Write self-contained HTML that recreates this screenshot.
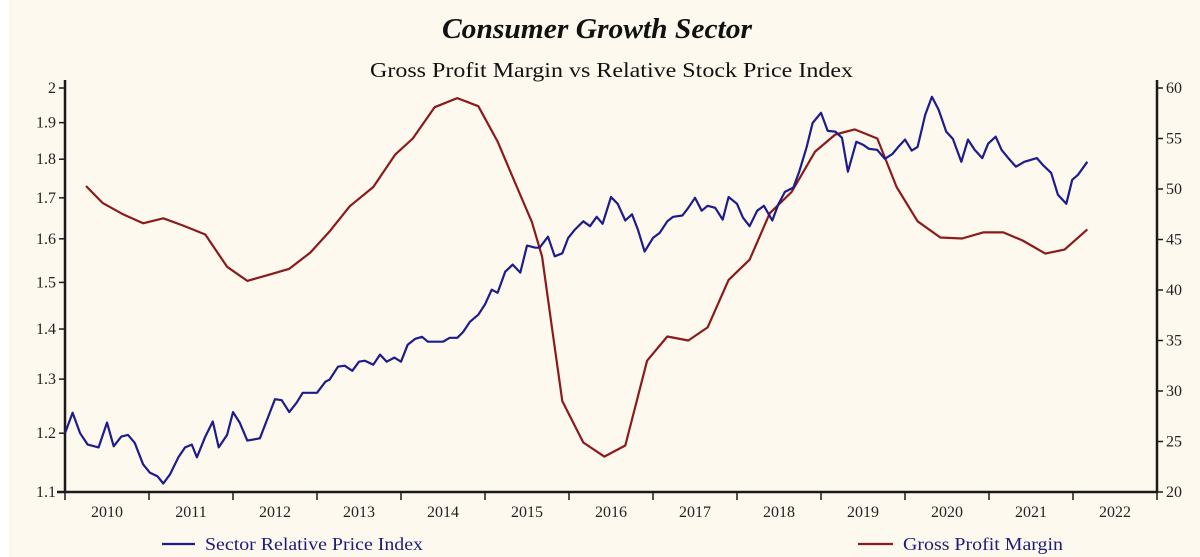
<!DOCTYPE html>
<html>
<head>
<meta charset="utf-8">
<style>
  html, body { margin: 0; padding: 0; background: #ffffff; }
  #wrap { position: relative; width: 1200px; height: 557px; overflow: hidden; }
  svg text { font-family: "Liberation Serif", serif; }
</style>
</head>
<body>
<div id="wrap">
<svg id="chart" width="1200" height="557" viewBox="0 0 1200 557" xmlns="http://www.w3.org/2000/svg">
  <rect x="9" y="0" width="1191" height="557" fill="#fdf9ef"/>
  <text x="442" y="38" textLength="310" lengthAdjust="spacingAndGlyphs" font-size="29" font-weight="bold" font-style="italic" fill="#111">Consumer Growth Sector</text>
  <text x="370" y="77" textLength="483" lengthAdjust="spacingAndGlyphs" font-size="21" fill="#111">Gross Profit Margin vs Relative Stock Price Index</text>
  <g id="axes"></g>
  <g id="series"></g>
  <g>
    <line x1="162" y1="544" x2="195" y2="544" stroke="#1c1c8c" stroke-width="2.2"/>
    <text x="205" y="550" textLength="218" lengthAdjust="spacingAndGlyphs" font-size="18" fill="#1c1c7a">Sector Relative Price Index</text>
    <line x1="858" y1="544" x2="893" y2="544" stroke="#8b1a1a" stroke-width="2.2"/>
    <text x="903" y="550" textLength="160" lengthAdjust="spacingAndGlyphs" font-size="18" fill="#1c1c7a">Gross Profit Margin</text>
  </g>
</svg>
</div>
<script>
const years = [2010, 2011, 2012, 2013, 2014, 2015, 2016, 2017, 2018, 2019, 2020, 2021, 2022];
const leftTicks = [1.1, 1.2, 1.3, 1.4, 1.5, 1.6, 1.7, 1.8, 1.9, 2];
const rightTicks = [20, 25, 30, 35, 40, 45, 50, 55, 60];

const priceDates = [2010.00,2010.09,2010.18,2010.27,2010.40,2010.50,2010.58,2010.67,2010.75,2010.83,2010.93,2011.01,2011.10,2011.17,2011.25,2011.35,2011.43,2011.51,2011.57,2011.67,2011.76,2011.83,2011.93,2012.00,2012.08,2012.17,2012.32,2012.42,2012.50,2012.58,2012.67,2012.76,2012.83,2013.00,2013.10,2013.15,2013.25,2013.33,2013.42,2013.50,2013.57,2013.67,2013.75,2013.83,2013.92,2014.00,2014.08,2014.17,2014.25,2014.32,2014.50,2014.58,2014.67,2014.74,2014.82,2014.92,2015.00,2015.08,2015.15,2015.24,2015.33,2015.42,2015.50,2015.60,2015.65,2015.75,2015.83,2015.92,2015.99,2016.07,2016.17,2016.25,2016.33,2016.40,2016.50,2016.58,2016.67,2016.75,2016.82,2016.90,2017.00,2017.08,2017.17,2017.24,2017.35,2017.42,2017.50,2017.58,2017.65,2017.74,2017.83,2017.90,2018.00,2018.07,2018.15,2018.24,2018.32,2018.42,2018.49,2018.57,2018.67,2018.74,2018.83,2018.90,2019.00,2019.08,2019.17,2019.25,2019.32,2019.42,2019.50,2019.57,2019.67,2019.76,2019.85,2019.92,2020.00,2020.08,2020.15,2020.24,2020.32,2020.40,2020.49,2020.57,2020.67,2020.75,2020.83,2020.92,2020.99,2021.08,2021.15,2021.23,2021.32,2021.42,2021.57,2021.64,2021.74,2021.82,2021.92,2021.99,2022.06,2022.17];
const priceValues = [1.200,1.237,1.200,1.180,1.175,1.219,1.177,1.194,1.197,1.183,1.146,1.132,1.126,1.114,1.129,1.158,1.175,1.180,1.158,1.194,1.221,1.175,1.197,1.238,1.219,1.187,1.191,1.230,1.262,1.260,1.238,1.256,1.274,1.274,1.295,1.299,1.324,1.326,1.316,1.334,1.336,1.328,1.348,1.334,1.342,1.334,1.368,1.380,1.384,1.374,1.374,1.382,1.382,1.394,1.415,1.430,1.452,1.484,1.477,1.524,1.540,1.522,1.584,1.579,1.579,1.605,1.559,1.566,1.602,1.622,1.642,1.630,1.653,1.636,1.702,1.685,1.644,1.659,1.622,1.570,1.602,1.614,1.642,1.653,1.656,1.675,1.700,1.668,1.680,1.675,1.646,1.702,1.685,1.651,1.630,1.668,1.680,1.644,1.683,1.715,1.726,1.767,1.833,1.899,1.928,1.877,1.875,1.858,1.767,1.847,1.839,1.828,1.825,1.801,1.814,1.833,1.853,1.823,1.833,1.922,1.974,1.937,1.875,1.855,1.793,1.853,1.825,1.803,1.842,1.861,1.825,1.803,1.780,1.793,1.803,1.785,1.764,1.708,1.685,1.746,1.759,1.793];

const marginDates = [2010.25,2010.45,2010.69,2010.93,2011.17,2011.40,2011.67,2011.93,2012.17,2012.42,2012.67,2012.92,2013.15,2013.39,2013.67,2013.93,2014.14,2014.40,2014.67,2014.92,2015.15,2015.38,2015.56,2015.68,2015.80,2015.92,2016.17,2016.42,2016.67,2016.93,2017.17,2017.42,2017.65,2017.90,2018.15,2018.39,2018.65,2018.93,2019.17,2019.40,2019.67,2019.90,2020.15,2020.42,2020.68,2020.93,2021.17,2021.40,2021.67,2021.90,2022.17];
const marginValues = [50.3,48.6,47.5,46.6,47.1,46.4,45.5,42.3,40.9,41.5,42.1,43.7,45.8,48.3,50.2,53.4,55.0,58.1,59.0,58.2,54.7,50.2,46.7,43.3,36.1,29.0,24.9,23.5,24.6,33.0,35.4,35.0,36.3,41.0,43.0,47.6,49.7,53.7,55.4,55.9,55.0,50.2,46.8,45.2,45.1,45.7,45.7,44.9,43.6,44.0,46.0];

const NS = "http://www.w3.org/2000/svg";
const X0 = 65, X1 = 1157, Y0 = 88, Y1 = 492;
function xScale(t) { return X0 + (t - 2010) / 13 * (X1 - X0); }
function yLeft(v) { return Y1 - (Math.log(v / 1.1) / Math.log(2 / 1.1)) * (Y1 - Y0); }
function yRight(v) { return Y1 - (v - 20) / 40 * (Y1 - Y0); }
function mk(tag, attrs, parent) {
  const e = document.createElementNS(NS, tag);
  for (const k in attrs) e.setAttribute(k, attrs[k]);
  parent.appendChild(e);
  return e;
}
const axes = document.getElementById('axes');
const series = document.getElementById('series');
const stroke = '#1a1a1a';

let el = mk('line', {x1: X0, y1: 80, x2: X0, y2: Y1 + 1, stroke: stroke, 'stroke-width': 2.5}, axes);


el = mk('line', {x1: X1, y1: 80, x2: X1, y2: Y1 + 1, stroke: stroke, 'stroke-width': 2.5}, axes);


el = mk('line', {x1: X0 - 8, y1: Y1, x2: X1 + 1, y2: Y1, stroke: stroke, 'stroke-width': 2.5}, axes);



leftTicks.forEach(v => {
  const y = yLeft(v);
  const t = mk('line', {x1: X0 - 6, y1: y, x2: X0, y2: y, stroke: stroke, 'stroke-width': 1.5}, axes);
  
  
  const l = mk('text', {x: X0 - 9, y: y + 5, 'text-anchor': 'end', 'font-size': 16, fill: '#222'}, axes);
  l.textContent = String(v);
  
  
});
rightTicks.forEach(v => {
  const y = yRight(v);
  const t = mk('line', {x1: X1, y1: y, x2: X1 + 6, y2: y, stroke: stroke, 'stroke-width': 1.5}, axes);
  
  
  const l = mk('text', {x: X1 + 9, y: y + 5, 'text-anchor': 'start', 'font-size': 16, fill: '#222'}, axes);
  l.textContent = String(v);
  
  
});
for (let i = 0; i <= years.length; i++) {
  const x = xScale(2010 + i);
  const t = mk('line', {x1: x, y1: Y1, x2: x, y2: Y1 + 8, stroke: stroke, 'stroke-width': 1.5}, axes);
  
  
}
years.forEach(yr => {
  const x = xScale(yr + 0.5);
  const l = mk('text', {x: x, y: Y1 + 25, 'text-anchor': 'middle', 'font-size': 16, fill: '#222'}, axes);
  l.textContent = String(yr);
  
  
});

const mPts = marginDates.map((d, i) => xScale(d).toFixed(1) + ',' + yRight(marginValues[i]).toFixed(1)).join(' ');
const mLine = mk('polyline', {points: mPts, fill: 'none', stroke: '#8b1a1a', 'stroke-width': 2.2, 'stroke-linejoin': 'round'}, series);



const pPts = priceDates.map((d, i) => xScale(d).toFixed(1) + ',' + yLeft(priceValues[i]).toFixed(1)).join(' ');
const pLine = mk('polyline', {points: pPts, fill: 'none', stroke: '#1c1c8c', 'stroke-width': 2.2, 'stroke-linejoin': 'round'}, series);


</script>
</body>
</html>
